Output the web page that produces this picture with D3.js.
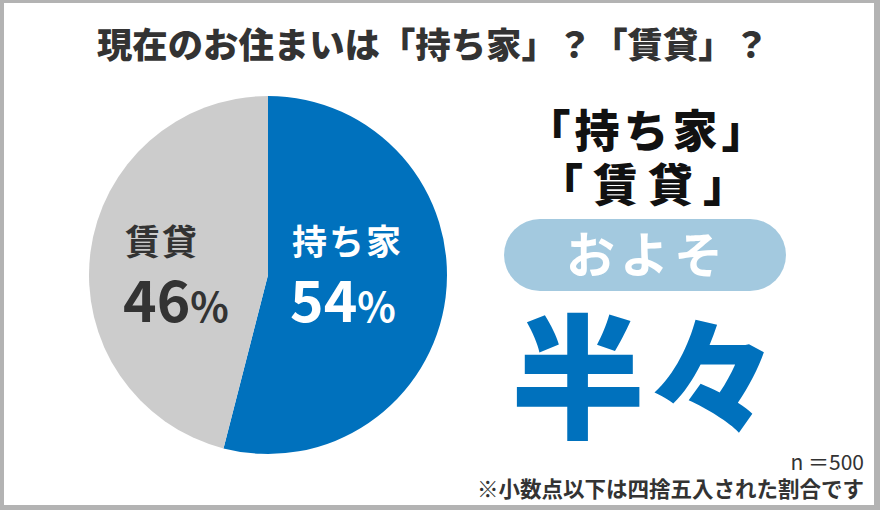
<!DOCTYPE html>
<html><head><meta charset="utf-8">
<script src="https://cdn.jsdelivr.net/npm/d3@7"></script>
<style>body{margin:0;background:#b3b3b3;}svg{display:block;}</style>
</head><body>
<svg id="c" width="880" height="510"></svg>
<script>
const categories = ["持ち家", "賃貸"];
const values = [54, 46];
const colors = ["#0071bd", "#cccccc"];
const labelColors = ["#ffffff", "#333333"];
const title = "現在のお住まいは「持ち家」？「賃貸」？";
const sampleNote = "n ＝500";
const roundNote = "※小数点以下は四捨五入された割合です";

const svg = d3.select("#c");
const F = "'Noto Sans CJK JP','Noto Sans',sans-serif";
svg.append("rect").attr("x",0).attr("y",0).attr("width",880).attr("height",510).attr("fill","#b3b3b3");
svg.append("rect").attr("x",4).attr("y",3).attr("width",870).attr("height",502).attr("fill","#ffffff");

svg.append("text").attr("x",433).attr("y",58).attr("text-anchor","middle")
  .attr("font-family",F).attr("font-weight",900).attr("font-size",35).attr("fill","#333")
  .attr("textLength",672).attr("lengthAdjust","spacingAndGlyphs")
  .text(title);

const cx=268, cy=275, r=179;
const pie = d3.pie().sort(null).value(d=>d)(values);
const arc = d3.arc().innerRadius(0).outerRadius(r);
const g = svg.append("g").attr("transform",`translate(${cx},${cy})`);
g.selectAll("path").data(pie).join("path").attr("d",arc).attr("fill",(d,i)=>colors[i]);

const labelPos = [[24, -20], [-143, -20]];
pie.forEach((d,i)=>{
  const [lx,ly]=labelPos[i];
  g.append("text").attr("x",lx).attr("y",ly).attr("font-family",F).attr("font-weight",700)
    .attr("font-size",35).attr("fill",labelColors[i]).attr("letter-spacing",2).text(categories[i]);
  const t = g.append("text").attr("x",lx-2).attr("y",ly+67).attr("font-family",F).attr("font-weight",700)
    .attr("fill",labelColors[i]);
  t.append("tspan").attr("font-size",57).text(values[i]);
  t.append("tspan").attr("font-size",40).text("%");
});

// Right panel
svg.append("text").attr("x",648).attr("y",148).attr("text-anchor","middle").attr("font-family",F)
  .attr("font-weight",900).attr("font-size",45).attr("letter-spacing",4).attr("fill","#111").text("「持ち家」");
svg.append("text").attr("x",648).attr("y",202).attr("text-anchor","middle").attr("font-family",F)
  .attr("font-weight",900).attr("font-size",45).attr("letter-spacing",10).attr("fill","#111").text("「賃貸」");
svg.append("rect").attr("x",504).attr("y",219).attr("width",282).attr("height",72).attr("rx",36)
  .attr("fill","#a3c9df");
svg.append("text").attr("x",647).attr("y",273).attr("text-anchor","middle").attr("font-family",F)
  .attr("font-weight",700).attr("font-size",49).attr("letter-spacing",5).attr("fill","#fff").text("およそ");
svg.append("text").attr("x",645).attr("y",428).attr("text-anchor","middle").attr("font-family",F)
  .attr("font-weight",900).attr("font-size",134).attr("fill","#0071bd").text("半々");

svg.append("text").attr("x",864).attr("y",470).attr("text-anchor","end").attr("font-family",F)
  .attr("font-weight",400).attr("font-size",21).attr("fill","#333").text(sampleNote);
svg.append("text").attr("x",864).attr("y",497).attr("text-anchor","end").attr("font-family",F)
  .attr("font-weight",700).attr("font-size",21.5).attr("fill","#333").text(roundNote);
</script>
</body></html>
